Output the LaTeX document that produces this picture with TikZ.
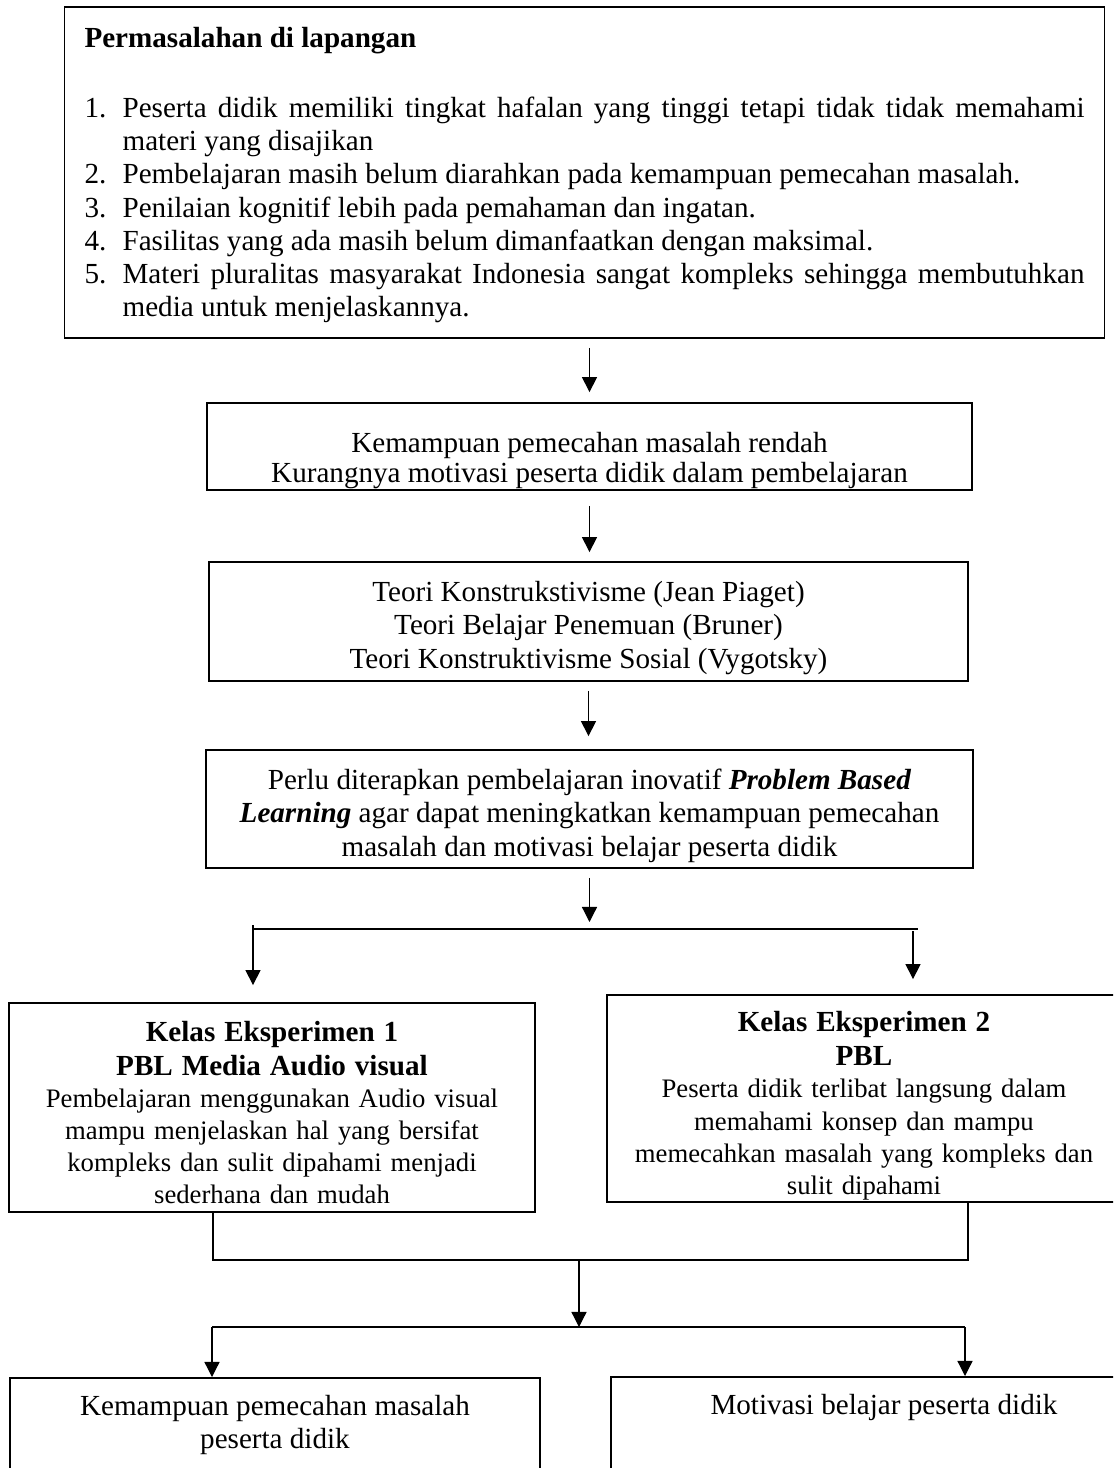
\documentclass[tikz,border=0pt]{standalone}
\usepackage{fontspec}
\setmainfont{Liberation Serif}
\usetikzlibrary{arrows.meta}
\newdimen\pxu
\pxu=0.412pt
\newcommand{\probitem}[2]{\par\hangindent=15.7pt\hangafter=1\noindent\makebox[15.7pt][l]{#1}#2\par}
\newcommand{\topstrut}[1]{\rule{0pt}{#1}}

\begin{document}
\begin{tikzpicture}[x=0.412pt, y=-0.412pt, >={Triangle[length=6.2pt,width=6.2pt]}, every node/.style={font=\fontsize{12}{13.7}\selectfont}]
\tikzset{
  flowbox/.style={
    draw,
    line width=0.75pt,
    align=center,
    inner sep=0pt,
  },
  kelasbox/.style={flowbox, text width=500\pxu, font=\fontsize{11}{13.2}\selectfont},
  resultbox/.style={flowbox, anchor=north, inner ysep=7pt, text depth=45pt},
  link/.style={line width=0.5pt}
}
\clip (0,0) rectangle (1113,1468);
\node[flowbox, align=justify, text width=1000\pxu, inner xsep=20\pxu, minimum height=331\pxu] (probs) at (584.5,172.5) {%
\noindent\topstrut{10.7pt}\textbf{Permasalahan di lapangan}\par\vspace{15pt}
\probitem{1.}{Peserta didik memiliki tingkat hafalan yang tinggi tetapi tidak tidak memahami\linebreak materi yang disajikan}
\probitem{2.}{Pembelajaran masih belum diarahkan pada kemampuan pemecahan masalah.}
\probitem{3.}{Penilaian kognitif lebih pada pemahaman dan ingatan.}
\probitem{4.}{Fasilitas yang ada masih belum dimanfaatkan dengan maksimal.}
\probitem{5.}{Materi pluralitas masyarakat Indonesia sangat kompleks sehingga membutuhkan\linebreak media untuk menjelaskannya.}};
\node[flowbox, minimum width=765\pxu, minimum height=87\pxu] (cause) at (589.5,446.5) {\topstrut{19.9pt}Kemampuan pemecahan masalah rendah\\[-1.5pt]Kurangnya motivasi peserta didik dalam pembelajaran};
\node[flowbox, minimum width=759\pxu, minimum height=119\pxu] (theory) at (588.5,621.5) {\topstrut{13.6pt}Teori Konstrukstivisme (Jean Piaget)\\Teori Belajar Penemuan (Bruner)\\Teori Konstruktivisme Sosial (Vygotsky)};
\node[flowbox, minimum width=767\pxu, minimum height=118\pxu] (pbl) at (589.5,809) {\topstrut{14pt}Perlu diterapkan pembelajaran inovatif \textbf{\textit{Problem Based}}\\\textbf{\textit{Learning}} agar dapat meningkatkan kemampuan pemecahan\\masalah dan motivasi belajar peserta didik};
\node[kelasbox, minimum width=526\pxu, minimum height=209\pxu] (kelas1) at (272,1107.5) {%
{\fontsize{12}{14}\selectfont\bfseries \topstrut{12.3pt}Kelas Eksperimen 1\\PBL Media Audio visual\par}
Pembelajaran menggunakan Audio visual\\mampu menjelaskan hal yang bersifat\\kompleks dan sulit dipahami menjadi\\sederhana dan mudah};
\node[kelasbox, minimum width=514\pxu, minimum height=207\pxu] (kelas2) at (864,1098.5) {%
{\fontsize{12}{14.3}\selectfont\bfseries \topstrut{14pt}Kelas Eksperimen 2\\PBL\par}
Peserta didik terlibat langsung dalam\\memahami konsep dan mampu\\memecahkan masalah yang kompleks dan\\sulit dipahami};
\node[resultbox, minimum width=530\pxu] (out1) at (275,1377) {Kemampuan pemecahan masalah\\peserta didik};
\node[resultbox, minimum width=546\pxu] (out2) at (884,1376) {Motivasi belajar peserta didik};
% fork and join points
\coordinate (forkL) at (253,929);
\coordinate (forkR) at (918,929);
\coordinate (dropR) at (913,929);
\coordinate (joinL) at (213,1260);
\coordinate (joinR) at (968,1260);
\coordinate (joinM) at (579,1260);
\coordinate (fanL) at (212,1327);
\coordinate (fanR) at (965,1327);
\draw[link,->,shorten <=9\pxu,shorten >=10\pxu] (probs.south -| cause.north) -- (cause.north);
\draw[link,->,shorten <=15\pxu,shorten >=9\pxu] (cause.south) -- (cause.south |- theory.north);
\draw[link,->,shorten <=9\pxu,shorten >=13\pxu] (theory.south) -- (theory.south |- pbl.north);
\draw[link,->,shorten <=9\pxu,shorten >=7\pxu] (pbl.south) -- (pbl.south |- forkL);
\draw[link] (forkL) -- (forkR);
\draw[link,->,shorten <=-4\pxu,shorten >=17\pxu] (forkL) -- (forkL |- kelas1.north);
\draw[link,->,shorten <=2\pxu,shorten >=15\pxu] (dropR) -- (dropR |- kelas2.north);
\draw[link] (kelas1.south -| joinL) -- (joinL) -- (joinR) -- (kelas2.south -| joinR);
\draw[link,->] (joinM) -- (joinM |- fanL);
\draw[link] (fanL) -- (fanR);
\draw[link,->] (fanL) -- (fanL |- out1.north);
\draw[link,->] (fanR) -- (fanR |- out2.north);
\end{tikzpicture}
\end{document}
